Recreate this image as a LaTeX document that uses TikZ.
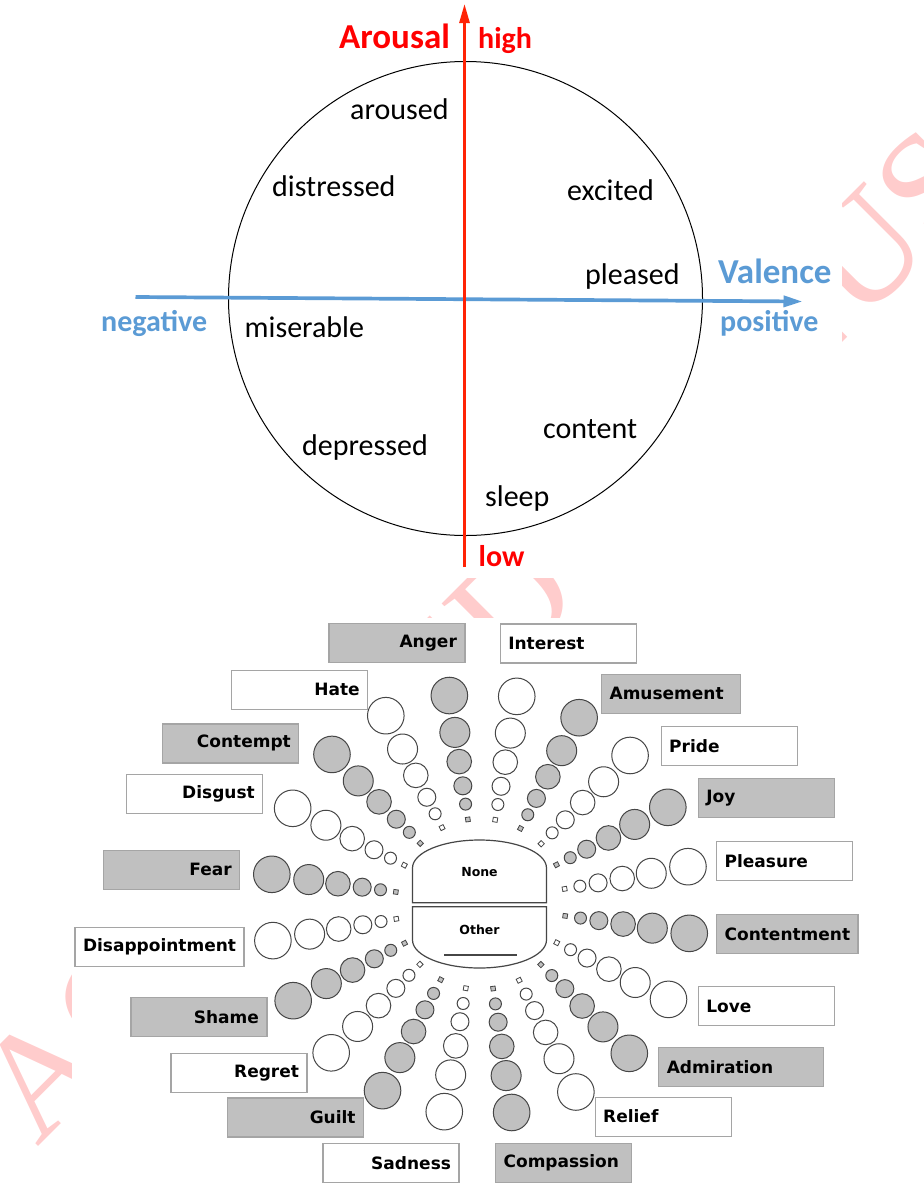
\documentclass[tikz,border=0pt]{standalone}
\usepackage{fontspec}
\setmainfont{Carlito}
\newfontfamily\wheelfont{DejaVu Sans}
\newfontfamily\stampfont{Liberation Serif}
\usetikzlibrary{arrows.meta,calc}
\definecolor{arored}{RGB}{255,0,0}
\definecolor{axisred}{RGB}{255,35,5}
\definecolor{valblue}{RGB}{91,155,213}
\definecolor{wheelgray}{RGB}{192,192,192}
\definecolor{boxline}{RGB}{165,165,165}
\definecolor{ringline}{RGB}{70,70,70}
\definecolor{stampred}{RGB}{255,204,204}

\begin{document}
\begin{tikzpicture}[x=1pt,y=-1pt,
    word/.style={anchor=base west,inner sep=0pt,font=\fontsize{30}{36}\selectfont},
    axislabel/.style={anchor=base west,inner sep=0pt,font=\bfseries\fontsize{30}{36}\selectfont},
    axistitle/.style={anchor=base west,inner sep=0pt,font=\bfseries\fontsize{35}{40}\selectfont},
    emobox/.style={draw=boxline,line width=1.2pt,minimum height=39,inner xsep=8pt,inner ysep=0pt,
        text width=120,font=\wheelfont\bfseries\fontsize{17}{20}\selectfont},
    lbox/.style={emobox,anchor=east,align=right},
    rbox/.style={emobox,anchor=west,align=left},
    sq/.style={draw=ringline,line width=0.8pt,minimum size=4.5,inner sep=0pt},
    ring/.style={draw=ringline,line width=1pt},
    stamp/.style={text=stampred,font=\stampfont\fontsize{150}{150}\selectfont,inner sep=0pt,
        rotate=45,anchor=base west}]

    \useasboundingbox (0,0) rectangle (924,1184);

    \coordinate (wmark) at (37,1148);
    \foreach \l/\s [count=\i] in {A/0,C/108.3,E/576.6,D/666.8,N/1054.2,U/1162.5,S/1270.8}
        \node[stamp] (stamp\i) at ($(wmark)+(-45:\s)$) {\l};
    \fill[white] (0,0) rectangle (842,578);
    \fill[white] (72,618) rectangle (924,1184);

    \draw[line width=1pt] (465.5,298.5) circle[radius=237];

    \coordinate (vneg) at (135.5,297);
    \coordinate (vpos) at (802.5,301.5);
    \coordinate (alow) at (464.5,567);
    \coordinate (ahigh) at (464.5,4);
    \draw[valblue,line width=3.7pt,-{Triangle[length=19pt,width=11pt]}] (vneg) -- (vpos);
    \draw[axisred,line width=2.7pt,-{Triangle[length=19pt,width=10pt]}] (alow) -- (ahigh);

    \node[axistitle,text=arored] (arousal) at (339,48) {Arousal};
    \node[axislabel,text=arored] (high) at (478,48) {high};
    \node[axislabel,text=arored] (low) at (478.5,566) {low};
    \node[axistitle,text=valblue] (valence) at (718,283) {Valence};
    \node[axislabel,text=valblue] (negative) at (101,331) {negative};
    \node[axislabel,text=valblue] (positive) at (720,331) {positive};

    \node[word] (aroused) at (350,119) {aroused};
    \node[word] (distressed) at (272,196) {distressed};
    \node[word] (excited) at (567,200) {excited};
    \node[word] (pleased) at (585,284) {pleased};
    \node[word] (miserable) at (244.5,337) {miserable};
    \node[word] (content) at (543,438) {content};
    \node[word] (depressed) at (302,455) {depressed};
    \node[word] (sleep) at (485,506) {sleep};

    \coordinate (wc) at (480.5,904);
    \foreach \a/\f [count=\i] in {98.5/wheelgray,80.1/white,62.1/wheelgray,44.8/white,27.3/wheelgray,
        10.2/white,-8/wheelgray,-26.9/white,-45.1/wheelgray,-63.1/white,-81.5/wheelgray,-99.9/white,
        -117.7/wheelgray,-135.1/white,-152.7/wheelgray,-170/white,171.9/wheelgray,153/white,
        134.8/wheelgray,116.7/white}{
        \node[sq,fill=\f,rotate=\a] (sp\i) at ($(wc)+({-\a}:85.5)$) {};
        \foreach \r/\s in {101/6,119.5/9,144/12.3,173.5/15,210.8/18.3}
            \filldraw[ring,fill=\f] ($(wc)+({-\a}:\r)$) circle[radius=\s];
    }

    \draw[ringline,line width=1.2pt] (412.5,902.7) -- (412.5,868)
        arc[start angle=180,end angle=360,x radius=67,y radius=28] -- (546.5,902.7) -- cycle;
    \draw[ringline,line width=1.2pt] (412.5,906.7) -- (546.5,906.7) -- (546.5,940)
        arc[start angle=0,end angle=180,x radius=67,y radius=28] -- cycle;
    \node[font=\wheelfont\bfseries\fontsize{12.5}{15}\selectfont] (none) at (479.5,871.7) {None};
    \node[font=\wheelfont\bfseries\fontsize{12.5}{15}\selectfont] (other) at (479.5,930) {Other};
    \draw[ringline,line width=1.5pt] (444,955) -- (517.3,955);

    \node[lbox,fill=wheelgray] (anger) at (465.5,642.8) {Anger};
    \node[rbox] (interest) at (499.7,643.5) {Interest};
    \node[lbox] (hate) at (368.3,689.8) {Hate};
    \node[rbox,fill=wheelgray,text width=122.5] (amusement) at (601,693.8) {Amusement};
    \node[lbox,fill=wheelgray] (contempt) at (299.4,743.4) {Contempt};
    \node[rbox] (pride) at (660.6,745.7) {Pride};
    \node[lbox] (disgust) at (263.4,794.2) {Disgust};
    \node[rbox,fill=wheelgray] (joy) at (697.7,798) {Joy};
    \node[lbox,fill=wheelgray] (fear) at (240.4,869.9) {Fear};
    \node[rbox] (pleasure) at (716,860.8) {Pleasure};
    \node[lbox,text width=153,align=center] (disappointment) at (244.6,947) {Disappointment};
    \node[rbox,fill=wheelgray,text width=125.4] (contentment) at (716,934) {Contentment};
    \node[lbox,fill=wheelgray] (shame) at (267.5,1017) {Shame};
    \node[rbox] (love) at (697.7,1006.2) {Love};
    \node[lbox] (regret) at (307.6,1072.9) {Regret};
    \node[rbox,fill=wheelgray,text width=149] (admiration) at (658.2,1067) {Admiration};
    \node[lbox,fill=wheelgray] (guilt) at (364.2,1117.4) {Guilt};
    \node[rbox] (relief) at (594.6,1116.6) {Relief};
    \node[lbox] (sadness) at (459.6,1162.8) {Sadness};
    \node[rbox,fill=wheelgray] (compassion) at (495,1162.8) {Compassion};
\end{tikzpicture}
\end{document}
